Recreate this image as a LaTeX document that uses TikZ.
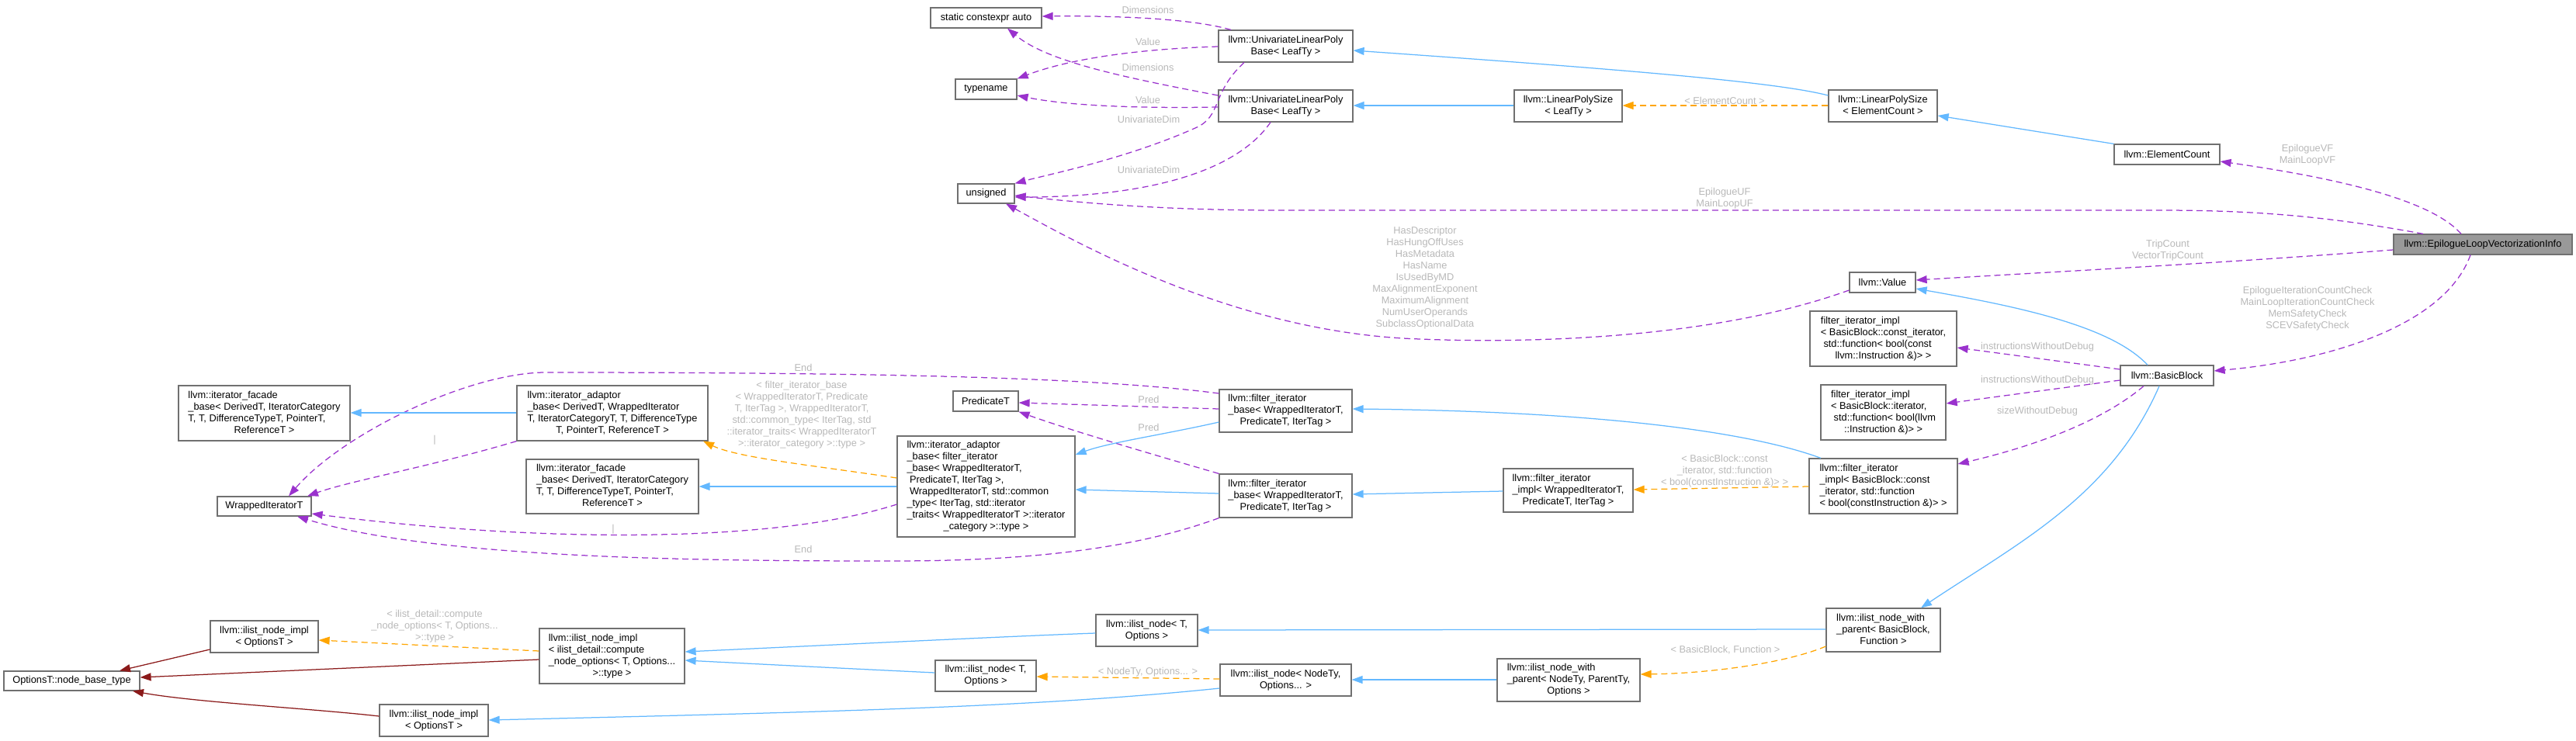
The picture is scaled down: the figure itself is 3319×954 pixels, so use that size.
\documentclass[tikz,border=0pt]{standalone}
\usepackage{fontspec}
\setmainfont{Liberation Sans}
\usetikzlibrary{arrows.meta}
\definecolor{eblue}{HTML}{63B8FF}
\definecolor{epurple}{HTML}{9A32CD}
\definecolor{eorange}{HTML}{FFA500}
\definecolor{ered}{HTML}{8B1A1A}
\definecolor{lblgray}{HTML}{B8B8B8}
\definecolor{nodeborder}{HTML}{707070}
\definecolor{selfill}{HTML}{999999}
\newcommand\fnt{\fontsize{12.8}{15}\selectfont}
\newcommand\tb[1]{\begin{tabular}{@{}l@{}}#1\end{tabular}}
\newcommand\lc[1]{\multicolumn{1}{@{}c@{}}{#1}}
\newcommand\mkbox[7][]{%
  \pgfmathsetmacro\bw{#5-#3}\pgfmathsetmacro\bh{#6-#4}%
  \pgfmathsetmacro\bcx{(#3+#5)/2}\pgfmathsetmacro\bcy{(#4+#6)/2}%
  \node[cls,#1,minimum width=\bw pt,minimum height=\bh pt] (#2) at (\bcx,\bcy) {#7};}
\tikzset{
  cls/.style={draw=nodeborder, fill=white, line width=1.2pt, inner sep=0pt, font=\fnt, text=black},
  lbl/.style={text=lblgray, inner sep=0pt, align=center, font=\fnt},
  tip/.style={-{Triangle[length=14pt,width=10pt]}},
  inh/.style={draw=eblue, line width=1.25pt, tip},
  use/.style={draw=epurple, line width=1.25pt, dash pattern=on 8pt off 5pt, tip},
  tpl/.style={draw=eorange, line width=1.25pt, dash pattern=on 8pt off 5pt, tip},
  prv/.style={draw=ered, line width=1.25pt, tip}
}
\begin{document}
\begin{tikzpicture}[x=1pt,y=-1pt]
\useasboundingbox (0,0) rectangle (3319,954);
% ---------- nodes ----------
\mkbox{sca}{1199}{10}{1342}{36}{static constexpr auto}
\mkbox{tn}{1231}{102}{1310}{128}{typename}
\mkbox{uns}{1234}{237}{1307}{262}{unsigned}
\mkbox{ulpbA}{1570}{39}{1743}{80}{\tb{llvm::UnivariateLinearPoly\\\lc{Base< LeafTy >}}}
\mkbox{ulpbB}{1570}{116}{1743}{157}{\tb{llvm::UnivariateLinearPoly\\\lc{Base< LeafTy >}}}
\mkbox{lpsL}{1951}{116}{2090}{157}{\tb{llvm::LinearPolySize\\\lc{< LeafTy >}}}
\mkbox{lpsE}{2356}{116}{2496}{157}{\tb{llvm::LinearPolySize\\\lc{< ElementCount >}}}
\mkbox{ec}{2724}{186}{2860}{212}{llvm::ElementCount}
\mkbox[fill=selfill]{elvi}{3084}{302}{3314}{328}{llvm::EpilogueLoopVectorizationInfo}
\mkbox{val}{2383}{351}{2468}{377}{llvm::Value}
\mkbox{fic}{2332}{401}{2521}{472}{\tb{filter\_iterator\_impl\\< BasicBlock::const\_iterator,\\\ std::function< bool(const\\\lc{llvm::Instruction \&)> >}}}
\mkbox{bb}{2732}{471}{2852}{497}{llvm::BasicBlock}
\mkbox{fii}{2346}{496}{2507}{567}{\tb{filter\_iterator\_impl\\< BasicBlock::iterator,\\\ std::function< bool(llvm\\\lc{::Instruction \&)> >}}}
\mkbox{lfi}{2331}{591}{2522}{662}{\tb{llvm::filter\_iterator\\\_impl< BasicBlock::const\\\_iterator, std::function\\\lc{< bool(constInstruction \&)> >}}}
\mkbox{fiw}{1937}{604}{2104}{660}{\tb{llvm::filter\_iterator\\\_impl< WrappedIteratorT,\\\lc{PredicateT, IterTag >}}}
\mkbox{inwpB}{2353}{784}{2500}{840}{\tb{llvm::ilist\_node\_with\\\_parent< BasicBlock,\\\lc{Function >}}}
\mkbox{inwpN}{1929}{849}{2113}{904}{\tb{llvm::ilist\_node\_with\\\_parent< NodeTy, ParentTy,\\\lc{Options >}}}
\mkbox{fibA}{1571}{502}{1742}{557}{\tb{llvm::filter\_iterator\\\_base< WrappedIteratorT,\\\lc{PredicateT, IterTag >}}}
\mkbox{fibB}{1571}{611}{1742}{667}{\tb{llvm::filter\_iterator\\\_base< WrappedIteratorT,\\\lc{PredicateT, IterTag >}}}
\mkbox{pred}{1228}{504}{1312}{530}{PredicateT}
\mkbox{iabF}{1156}{562}{1385}{692}{\tb{llvm::iterator\_adaptor\\\_base< filter\_iterator\\\_base< WrappedIteratorT,\\\ PredicateT, IterTag >,\\\ WrappedIteratorT, std::common\\\_type< IterTag, std::iterator\\\_traits< WrappedIteratorT >::iterator\\\lc{\_category >::type >}}}
\mkbox{ifbA}{230}{497}{451}{568}{\tb{llvm::iterator\_facade\\\_base< DerivedT, IteratorCategory\\T, T, DifferenceTypeT, PointerT,\\\lc{ReferenceT >}}}
\mkbox{iabD}{666}{497}{912}{568}{\tb{llvm::iterator\_adaptor\\\_base< DerivedT, WrappedIterator\\T, IteratorCategoryT, T, DifferenceType\\\lc{T, PointerT, ReferenceT >}}}
\mkbox{ifbB}{678}{592}{900}{662}{\tb{llvm::iterator\_facade\\\_base< DerivedT, IteratorCategory\\T, T, DifferenceTypeT, PointerT,\\\lc{ReferenceT >}}}
\mkbox{wit}{280}{640}{401}{665}{WrappedIteratorT}
\mkbox{iniA}{271}{800}{410}{841}{\tb{llvm::ilist\_node\_impl\\\lc{< OptionsT >}}}
\mkbox{inid}{695}{810}{882}{881}{\tb{llvm::ilist\_node\_impl\\< ilist\_detail::compute\\\_node\_options< T, Options...\\\lc{>::type >}}}
\mkbox{obt}{5}{865}{180}{890}{OptionsT::node\_base\_type}
\mkbox{iniB}{489}{908}{629}{949}{\tb{llvm::ilist\_node\_impl\\\lc{< OptionsT >}}}
\mkbox{inA}{1412}{792}{1543}{833}{\tb{llvm::ilist\_node< T,\\\lc{Options >}}}
\mkbox{inB}{1205}{851}{1335}{891}{\tb{llvm::ilist\_node< T,\\\lc{Options >}}}
\mkbox{inN}{1572}{856}{1741}{897}{\tb{llvm::ilist\_node< NodeTy,\\\lc{Options... >}}}
% ---------- edge labels ----------
\node[lbl] (lDimA) at (1479,13) {Dimensions};
\node[lbl] (lValA) at (1479,54) {Value};
\node[lbl] (lDimB) at (1479,87) {Dimensions};
\node[lbl] (lValB) at (1479,129) {Value};
\node[lbl] (lUdA) at (1480,154) {UnivariateDim};
\node[lbl] (lUdB) at (1480,219) {UnivariateDim};
\node[lbl] (lMem) at (1836,358) {HasDescriptor\\HasHungOffUses\\HasMetadata\\HasName\\IsUsedByMD\\MaxAlignmentExponent\\MaximumAlignment\\NumUserOperands\\SubclassOptionalData};
\node[lbl] (lEC) at (2222,130) {< ElementCount >};
\node[lbl] (lVF) at (2973,200) {EpilogueVF\\MainLoopVF};
\node[lbl] (lUF) at (2222,256) {EpilogueUF\\MainLoopUF};
\node[lbl] (lTC) at (2793,323) {TripCount\\VectorTripCount};
\node[lbl] (lChk) at (2973,398) {EpilogueIterationCountCheck\\MainLoopIterationCountCheck\\MemSafetyCheck\\SCEVSafetyCheck};
\node[lbl] (lIWA) at (2625,447) {instructionsWithoutDebug};
\node[lbl] (lIWB) at (2625,490) {instructionsWithoutDebug};
\node[lbl] (lSW) at (2625,530) {sizeWithoutDebug};
\node[lbl] (lBBc) at (2222,607) {< BasicBlock::const\\\_iterator, std::function\\< bool(constInstruction \&)> >};
\node[lbl] (lBBF) at (2223,838) {< BasicBlock, Function >};
\node[lbl] (lPrA) at (1480,515) {Pred};
\node[lbl] (lPrB) at (1480,551) {Pred};
\node[lbl] (lEndA) at (1035,474) {End};
\node[lbl] (lEndB) at (1035,708) {End};
\node[lbl] (lBarA) at (560,567) {|};
\node[lbl] (lBarB) at (790,682) {|};
\node[lbl] (lFIB) at (1033,535) {< filter\_iterator\_base\\< WrappedIteratorT, Predicate\\T, IterTag >, WrappedIteratorT,\\std::common\_type< IterTag, std\\::iterator\_traits< WrappedIteratorT\\>::iterator\_category >::type >};
\node[lbl] (lIDC) at (560,807) {< ilist\_detail::compute\\\_node\_options< T, Options...\\>::type >};
\node[lbl] (lNO) at (1479,866) {< NodeTy, Options... >};
% ---------- edges ----------
\draw[inh] (lpsE.west |- 0,123) .. controls (2290,106) and (2100,90) .. (ulpbA.east |- 0,65);
\draw[inh] (lpsL.west |- 0,136) -- (ulpbB.east |- 0,136);
\draw[tpl] (lpsE.west |- 0,136) -- (lpsL.east |- 0,136);
\draw[inh] (ec.north west) -- (lpsE.east |- 0,149);
\draw[use] (3171,0 |- elvi.north) .. controls (3130,255) and (3000,228) .. (ec.east |- 0,208);
\draw[use] (3122,0 |- elvi.north) .. controls (2980,275) and (2880,271) .. (2780,271) -- (1650,271) .. controls (1500,271) and (1400,262) .. (uns.east |- 0,252);
\draw[use] (elvi.west |- 0,322) .. controls (2850,340) and (2650,350) .. (val.east |- 0,361);
\draw[use] (3183,0 |- elvi.south) .. controls (3150,420) and (3000,465) .. (bb.east |- 0,478);
\draw[inh] (2767,0 |- bb.north) .. controls (2720,420) and (2600,395) .. (val.east |- 0,372);
\draw[use] (bb.west |- 0,476) -- (fic.east |- 0,448);
\draw[use] (bb.west |- 0,490) -- (fii.east |- 0,520);
\draw[use] (2762,0 |- bb.south) .. controls (2700,550) and (2600,580) .. (lfi.east |- 0,598);
\draw[inh] (2782,0 |- bb.south) .. controls (2720,640) and (2600,700) .. (2475,0 |- inwpB.north);
\draw[use] (val.west |- 0,374) .. controls (2200,440) and (1950,442) .. (1830,437) .. controls (1600,430) and (1400,320) .. (1296,0 |- uns.south);
\draw[use] (1586,0 |- ulpbA.north) .. controls (1540,25) and (1450,20) .. (sca.east |- 0,21);
\draw[use] (ulpbA.west |- 0,60) .. controls (1470,63) and (1380,75) .. (tn.north east);
\draw[use] (ulpbB.west |- 0,123) .. controls (1450,100) and (1350,80) .. (1298,0 |- sca.south);
\draw[use] (ulpbB.west |- 0,138) .. controls (1450,140) and (1370,135) .. (tn.east |- 0,123);
\draw[use] (1603,0 |- ulpbA.south) .. controls (1560,120) and (1575,150) .. (1540,165) .. controls (1450,205) and (1350,225) .. (uns.north east);
\draw[use] (1637,0 |- ulpbB.south) .. controls (1580,240) and (1420,254) .. (uns.east |- 0,254);
\draw[inh] (2346,0 |- lfi.north) .. controls (2250,555) and (2050,530) .. (fibA.east |- 0,527);
\draw[inh] (fiw.west |- 0,633) -- (fibB.east |- 0,637);
\draw[tpl] (lfi.west |- 0,627) -- (fiw.east |- 0,631);
\draw[use] (fibA.west |- 0,527) -- (pred.east |- 0,519);
\draw[use] (fibB.north west) .. controls (1500,590) and (1380,555) .. (pred.south east);
\draw[inh] (fibA.west |- 0,544) .. controls (1500,560) and (1430,570) .. (iabF.east |- 0,586);
\draw[inh] (fibB.west |- 0,636) -- (iabF.east |- 0,631);
\draw[use] (fibA.west |- 0,507) .. controls (1400,485) and (1100,480) .. (700,480) .. controls (600,482) and (440,560) .. (372,0 |- wit.north);
\draw[use] (iabD.south west) .. controls (560,600) and (450,620) .. (396,0 |- wit.north);
\draw[use] (iabF.west |- 0,650) .. controls (1000,700) and (700,700) .. (wit.east |- 0,662);
\draw[use] (fibB.south west) .. controls (1450,712) and (1300,723) .. (1150,723) .. controls (900,723) and (560,720) .. (383,0 |- wit.south);
\draw[inh] (iabD.west |- 0,532) -- (ifbA.east |- 0,532);
\draw[tpl] (iabF.west |- 0,616) .. controls (1050,600) and (950,590) .. (906,0 |- iabD.south);
\draw[inh] (iabF.west |- 0,627) -- (ifbB.east |- 0,627);
\draw[tpl] (inid.west |- 0,839) -- (iniA.east |- 0,825);
\draw[prv] (iniA.west |- 0,837) -- (154,0 |- obt.north);
\draw[prv] (inid.west |- 0,850) -- (obt.east |- 0,873);
\draw[prv] (iniB.west |- 0,923) .. controls (400,913) and (250,905) .. (171,0 |- obt.south);
\draw[inh] (inA.west |- 0,816) .. controls (1300,820) and (1100,830) .. (inid.east |- 0,840);
\draw[inh] (inB.west |- 0,867) .. controls (1100,862) and (1000,857) .. (inid.east |- 0,851);
\draw[inh] (inN.west |- 0,887) .. controls (1350,910) and (1100,917) .. (iniB.east |- 0,928);
\draw[tpl] (inN.west |- 0,875) -- (inB.east |- 0,872);
\draw[inh] (inwpB.west |- 0,811) -- (inA.east |- 0,812);
\draw[inh] (inwpN.west |- 0,876) -- (inN.east |- 0,876);
\draw[tpl] (inwpB.west |- 0,833) .. controls (2300,855) and (2200,868) .. (inwpN.east |- 0,869);
\end{tikzpicture}
\end{document}
